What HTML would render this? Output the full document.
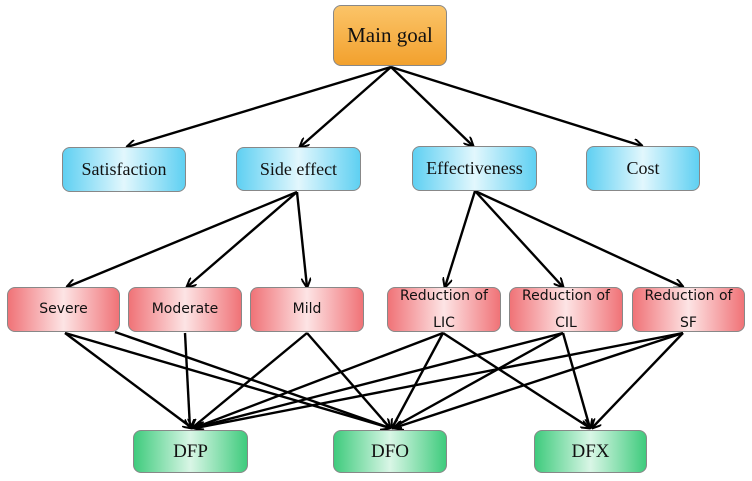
<!DOCTYPE html>
<html><head><style>
body{margin:0;width:752px;height:481px;background:#fff;overflow:hidden;position:relative}
.b{position:absolute;box-sizing:border-box;border:1px solid #888;border-radius:8px;display:flex;align-items:center;justify-content:center;text-align:center;color:#111}
.o{background:linear-gradient(#fbc468,#f2a12e);font:21px "Liberation Serif",serif}
.c{background:linear-gradient(90deg,#5fd0f2,#e2f7fd 50%,#5fd0f2);font:18px "Liberation Serif",serif}
.r{background:linear-gradient(90deg,#f07377,#fde4e5 50%,#f07377);font:14px "DejaVu Sans",sans-serif;line-height:1.9}
.g{background:linear-gradient(90deg,#3fcb7d,#d9f6e6 50%,#3fcb7d);font:19px "Liberation Serif",serif}
svg{position:absolute;left:0;top:0}
</style></head><body>
<svg width="752" height="481">
<defs><marker id="a" markerWidth="10" markerHeight="10" refX="9" refY="5" orient="auto" markerUnits="userSpaceOnUse"><path d="M0,0 L10,5 L0,10" fill="none" stroke="#000" stroke-width="2"/></marker></defs>
<g stroke="#000" stroke-width="2.4" marker-end="url(#a)">
<line x1="391" y1="67" x2="127" y2="147"/>
<line x1="391" y1="67" x2="300" y2="147"/>
<line x1="391" y1="67" x2="473" y2="146"/>
<line x1="391" y1="67" x2="642" y2="146"/>
<line x1="297" y1="192" x2="67" y2="287"/>
<line x1="297" y1="192" x2="187" y2="287"/>
<line x1="297" y1="192" x2="307" y2="287"/>
<line x1="475" y1="191" x2="445" y2="287"/>
<line x1="475" y1="191" x2="563" y2="287"/>
<line x1="475" y1="191" x2="683" y2="287"/>
<line x1="65" y1="333" x2="192" y2="428"/>
<line x1="65" y1="333" x2="390" y2="428"/>
<line x1="115" y1="332" x2="390" y2="428"/>
<line x1="185" y1="333" x2="190" y2="428"/>
<line x1="307" y1="333" x2="192" y2="428"/>
<line x1="307" y1="333" x2="390" y2="428"/>
<line x1="443" y1="333" x2="194" y2="428"/>
<line x1="443" y1="333" x2="392" y2="428"/>
<line x1="443" y1="333" x2="590" y2="428"/>
<line x1="563" y1="333" x2="194" y2="428"/>
<line x1="563" y1="333" x2="392" y2="428"/>
<line x1="563" y1="333" x2="590" y2="428"/>
<line x1="683" y1="333" x2="196" y2="428"/>
<line x1="683" y1="333" x2="394" y2="428"/>
<line x1="683" y1="333" x2="592" y2="428"/>
</g></svg>
<div class="b o" style="left:333px;top:5px;width:114px;height:61px">Main goal</div>
<div class="b c" style="left:62px;top:147px;width:124px;height:45px">Satisfaction</div>
<div class="b c" style="left:236px;top:147px;width:125px;height:44px">Side effect</div>
<div class="b c" style="left:412px;top:146px;width:125px;height:45px">Effectiveness</div>
<div class="b c" style="left:586px;top:146px;width:114px;height:45px">Cost</div>
<div class="b r" style="left:7px;top:287px;width:113px;height:45px">Severe</div>
<div class="b r" style="left:128px;top:287px;width:114px;height:45px">Moderate</div>
<div class="b r" style="left:250px;top:287px;width:114px;height:45px">Mild</div>
<div class="b r" style="left:387px;top:287px;width:114px;height:45px">Reduction of<br>LIC</div>
<div class="b r" style="left:509px;top:287px;width:114px;height:45px">Reduction of<br>CIL</div>
<div class="b r" style="left:632px;top:287px;width:113px;height:45px">Reduction of<br>SF</div>
<div class="b g" style="left:133px;top:430px;width:115px;height:43px">DFP</div>
<div class="b g" style="left:333px;top:430px;width:114px;height:43px">DFO</div>
<div class="b g" style="left:534px;top:430px;width:113px;height:43px">DFX</div>
</body></html>
